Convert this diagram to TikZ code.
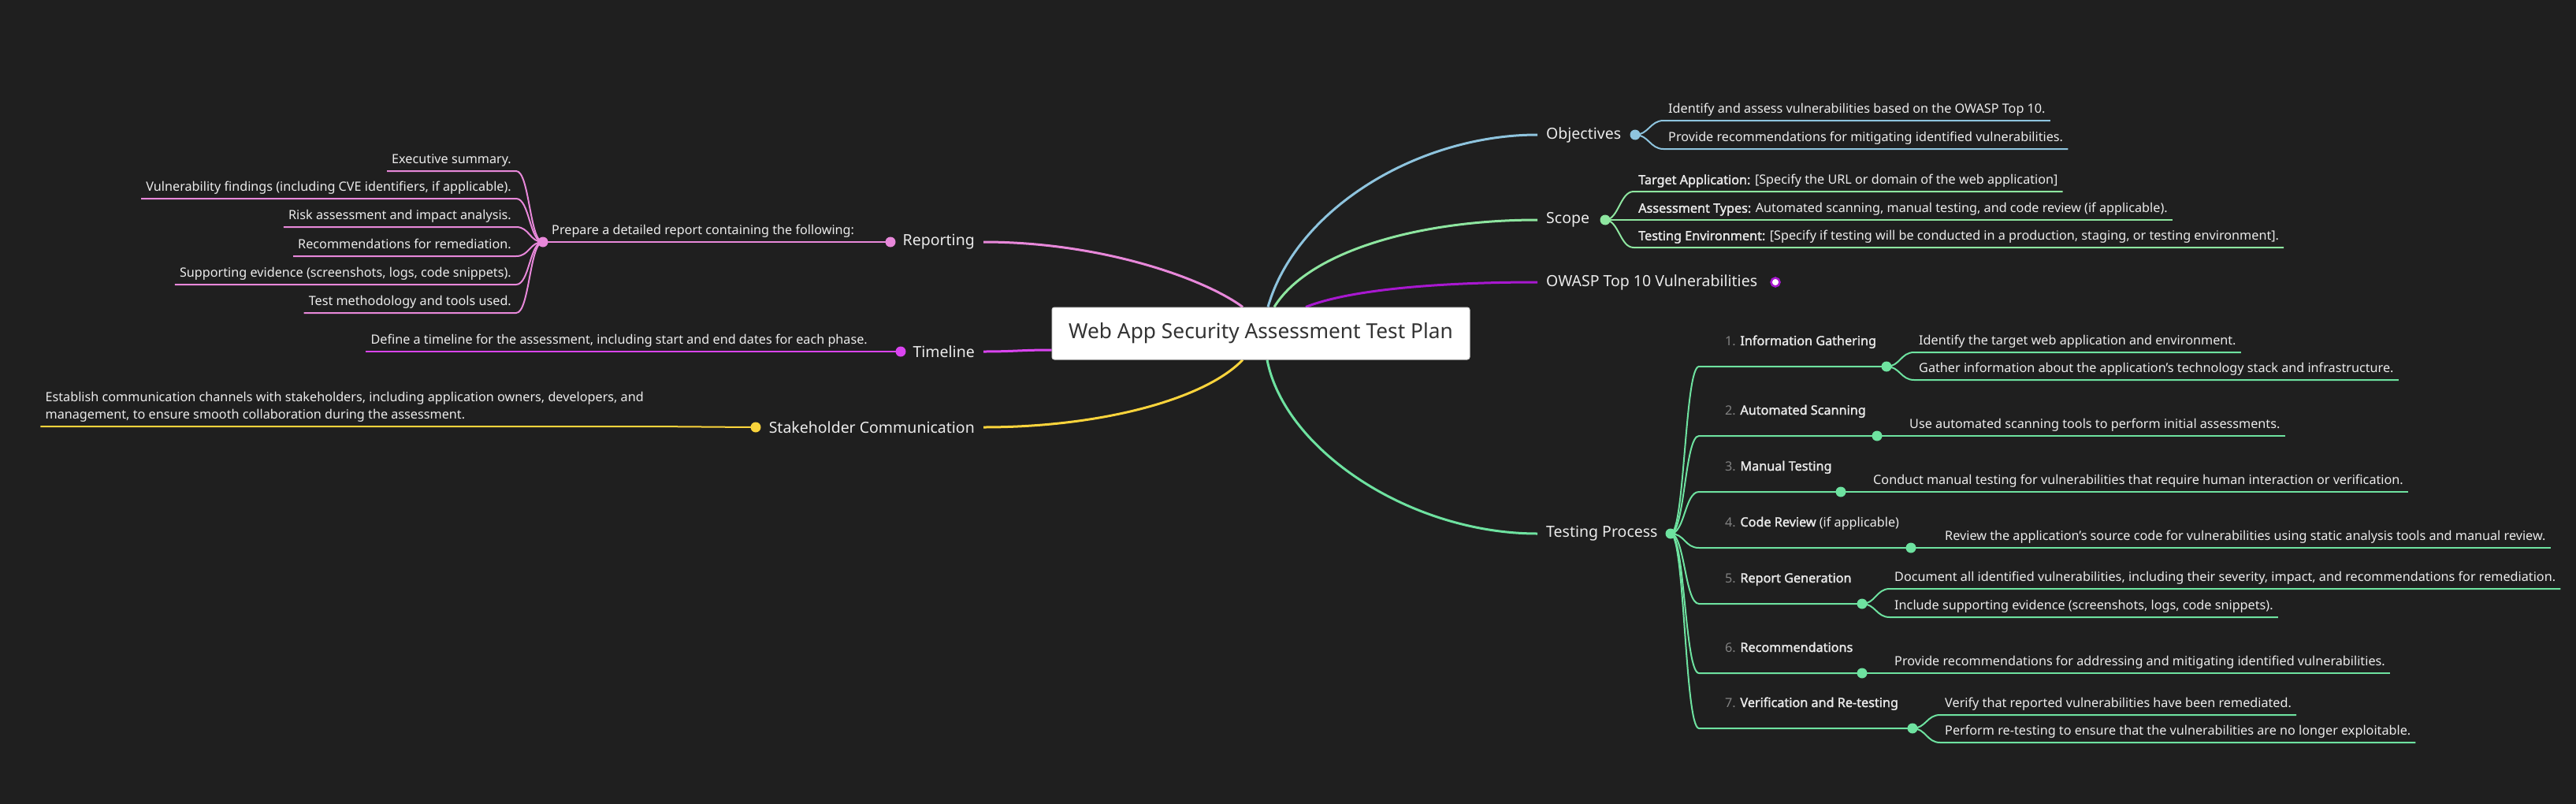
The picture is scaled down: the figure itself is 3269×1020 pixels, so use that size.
\documentclass[tikz,border=0pt]{standalone}
\usepackage{fontspec}
\setmainfont{Noto Sans}[AutoFakeBold=1.6]
\usepackage{tikz}
\usetikzlibrary{positioning}
\pgfdeclarelayer{bg}
\pgfdeclarelayer{links}
\pgfsetlayers{bg,links,main}
\definecolor{bgColor}{RGB}{31,31,31}
\definecolor{pinkC}{RGB}{232,136,218}
\definecolor{magentaC}{RGB}{218,68,240}
\definecolor{yellowC}{RGB}{250,212,60}
\definecolor{blueC}{RGB}{142,196,222}
\definecolor{scopeC}{RGB}{142,230,160}
\definecolor{owaspC}{RGB}{168,24,208}
\definecolor{testC}{RGB}{110,226,160}
\definecolor{numGray}{RGB}{130,130,130}
\definecolor{leafWhite}{RGB}{235,235,235}
\definecolor{rootText}{RGB}{51,51,51}
\definecolor{rootBorder}{RGB}{215,215,215}
\tikzstyle{mindmapCanvas} = [x = 1pt, y = -1pt]
\newcommand{\leafFont}{\fontsize{16.2}{22}\selectfont}
\tikzstyle{rootStyle} = [rectangle, rounded corners = 3pt, fill=white, draw=rootBorder, line width=1pt, minimum width=530pt, minimum height=66pt, text=rootText, font=\fontsize{26.3}{30}\selectfont]
\tikzstyle{branchText} = [text=leafWhite, inner xsep=11pt, inner ysep=2pt, font=\fontsize{19.5}{22}\selectfont]
\tikzstyle{leafText} = [text=leafWhite, inner xsep=6pt, inner ysep=9pt, text depth=0pt, align=left, font=\leafFont]
\tikzstyle{stepText} = [text=leafWhite, inner sep=0pt, font=\leafFont]
\tikzstyle{dotStyle} = [circle, fill=#1, inner sep=0pt, minimum size=13pt]
\tikzstyle{linkLine} = [line width=3pt]
\tikzstyle{leafLine} = [line width=2pt]
\tikzstyle{stepLine} = [line width=2pt, color=testC]
\newcommand{\leafRight}[6]{
  \node [leafText, anchor=south west] (#1) at (#4,#5) {#6};
  \begin{pgfonlayer}{links}
    \draw [leafLine, color=#3] (#2.center) .. controls +(17,0) and +(-17,0) .. (#1.south west) -- (#1.south east);
  \end{pgfonlayer}
}
\newcommand{\leafLeft}[6]{
  \node [leafText, anchor=south east] (#1) at (#4,#5) {#6};
  \begin{pgfonlayer}{links}
    \draw [leafLine, color=#3] (#2.center) .. controls +(-17,0) and +(17,0) .. (#1.south east) -- (#1.south west);
  \end{pgfonlayer}
}
\newcommand{\testStep}[5]{
  \coordinate (#1In) at (2156,#4);
  \node [stepText, anchor=base west] (#1) at (2189,#4-27) {{\color{numGray}#2.} #3};
  \node [dotStyle=testC] (#1Dot) at (#5,#4) {};
  \begin{pgfonlayer}{links}
    \draw [stepLine] (tpDot.center) .. controls +(18,0) and +(-18,0) .. (#1In) -- (#1Dot.center);
  \end{pgfonlayer}
}

\begin{document}
\begin{tikzpicture}[mindmapCanvas]
  \useasboundingbox (0,0) rectangle (3269,1020);
  \begin{pgfonlayer}{bg}
    \fill [bgColor] (0,0) rectangle (3269,1020);
  \end{pgfonlayer}

  % centre and first level
  \node [rootStyle] (root) at (1600,423) {Web App Security Assessment Test Plan};
  \node [branchText, anchor=west] (obj) at (1951,171) {Objectives};
  \node [branchText, anchor=west] (scope) at (1951,279) {Scope};
  \node [branchText, anchor=west] (owasp) at (1951,358) {OWASP Top 10 Vulnerabilities};
  \node [branchText, anchor=west] (tp) at (1951,677) {Testing Process};
  \node [branchText, anchor=east] (rep) at (1248,307) {Reporting};
  \node [branchText, anchor=east] (tl) at (1248,446) {Timeline};
  \node [branchText, anchor=east] (sh) at (1248,542) {Stakeholder Communication};

  \node [dotStyle=blueC] (objDot) at (2075,171) {};
  \node [dotStyle=scopeC] (scopeDot) at (2037,279) {};
  \node [circle, fill=white, draw=owaspC, line width=2.5pt, inner sep=0pt, minimum size=11pt] (owaspDot) at (2253,358) {};
  \node [dotStyle=testC] (tpDot) at (2120,677) {};
  \node [dotStyle=pinkC] (repDot) at (1130,307) {};
  \node [dotStyle=magentaC] (tlDot) at (1143,446) {};
  \node [dotStyle=yellowC] (shDot) at (959,542) {};

  \begin{pgfonlayer}{links}
    \draw [linkLine, color=blueC] ([xshift=9pt]root.north) .. controls +(36,-125) and +(-151,0) .. (obj.west);
    \draw [linkLine, color=scopeC] ([xshift=17pt]root.north) .. controls +(43,-70) and +(-152,0) .. (scope.west);
    \draw [linkLine, color=owaspC] ([xshift=57pt]root.north) .. controls +(63,-25) and +(-102,0) .. (owasp.west);
    \draw [linkLine, color=testC] ([xshift=8pt]root.south) .. controls +(22,114) and +(-162,0) .. (tp.west);
    \draw [linkLine, color=pinkC] ([xshift=-23pt]root.north) .. controls +(-47,-35) and +(152,0) .. (rep.east);
    \draw [linkLine, color=magentaC] ([yshift=-21pt]root.west) .. controls +(-40,0) and +(40,0) .. (tl.east);
    \draw [linkLine, color=yellowC] ([xshift=-23pt]root.south) .. controls +(-47,49) and +(152,0) .. (sh.east);
  \end{pgfonlayer}

  % objectives and scope
  \leafRight{obj1}{objDot}{blueC}{2111}{153}{Identify and assess vulnerabilities based on the OWASP Top 10.}
  \leafRight{obj2}{objDot}{blueC}{2111}{189}{Provide recommendations for mitigating identified vulnerabilities.}
  \leafRight{scope1}{scopeDot}{scopeC}{2073}{243}{\textbf{Target Application:} [Specify the URL or domain of the web application]}
  \leafRight{scope2}{scopeDot}{scopeC}{2073}{279}{\textbf{Assessment Types:} Automated scanning, manual testing, and code review (if applicable).}
  \leafRight{scope3}{scopeDot}{scopeC}{2073}{314}{\textbf{Testing Environment:} [Specify if testing will be conducted in a production, staging, or testing environment].}

  % testing process
  \testStep{s1}{1}{\textbf{Information Gathering}}{465}{2394}
  \testStep{s2}{2}{\textbf{Automated Scanning}}{553}{2382}
  \testStep{s3}{3}{\textbf{Manual Testing}}{624}{2336}
  \testStep{s4}{4}{\textbf{Code Review} (if applicable)}{695}{2425}
  \testStep{s5}{5}{\textbf{Report Generation}}{766}{2363}
  \testStep{s6}{6}{\textbf{Recommendations}}{854}{2363}
  \testStep{s7}{7}{\textbf{Verification and Re-testing}}{924}{2427}
  \leafRight{s1a}{s1Dot}{testC}{2429}{447}{Identify the target web application and environment.}
  \leafRight{s1b}{s1Dot}{testC}{2429}{482}{Gather information about the application's technology stack and infrastructure.}
  \leafRight{s2a}{s2Dot}{testC}{2417}{553}{Use automated scanning tools to perform initial assessments.}
  \leafRight{s3a}{s3Dot}{testC}{2371}{624}{Conduct manual testing for vulnerabilities that require human interaction or verification.}
  \leafRight{s4a}{s4Dot}{testC}{2462}{695}{Review the application's source code for vulnerabilities using static analysis tools and manual review.}
  \leafRight{s5a}{s5Dot}{testC}{2398}{747}{Document all identified vulnerabilities, including their severity, impact, and recommendations for remediation.}
  \leafRight{s5b}{s5Dot}{testC}{2398}{783}{Include supporting evidence (screenshots, logs, code snippets).}
  \leafRight{s6a}{s6Dot}{testC}{2398}{854}{Provide recommendations for addressing and mitigating identified vulnerabilities.}
  \leafRight{s7a}{s7Dot}{testC}{2462}{907}{Verify that reported vulnerabilities have been remediated.}
  \leafRight{s7b}{s7Dot}{testC}{2462}{942}{Perform re-testing to ensure that the vulnerabilities are no longer exploitable.}

  % reporting
  \node [dotStyle=pinkC] (prepDot) at (689,307) {};
  \node [leafText, anchor=south west] (prep) at (694,307) {Prepare a detailed report containing the following:};
  \begin{pgfonlayer}{links}
    \draw [leafLine, color=pinkC] (repDot.center) -- (prepDot.center);
  \end{pgfonlayer}
  \foreach \ly/\txt [count=\i] in {217/{Executive summary.}, 252/{Vulnerability findings (including CVE identifiers, if applicable).}, 288/{Risk assessment and impact analysis.}, 325/{Recommendations for remediation.}, 361/{Supporting evidence (screenshots, logs, code snippets).}, 397/{Test methodology and tools used.}} {
    \leafLeft{rep\i}{prepDot}{pinkC}{655}{\ly}{\txt}
  }

  % timeline and stakeholders
  \leafLeft{tlLeaf}{tlDot}{magentaC}{1107}{446}{Define a timeline for the assessment, including start and end dates for each phase.}
  \leafLeft{shLeaf}{shDot}{yellowC}{823}{541}{Establish communication channels with stakeholders, including application owners, developers, and\\management, to ensure smooth collaboration during the assessment.}
\end{tikzpicture}
\end{document}
